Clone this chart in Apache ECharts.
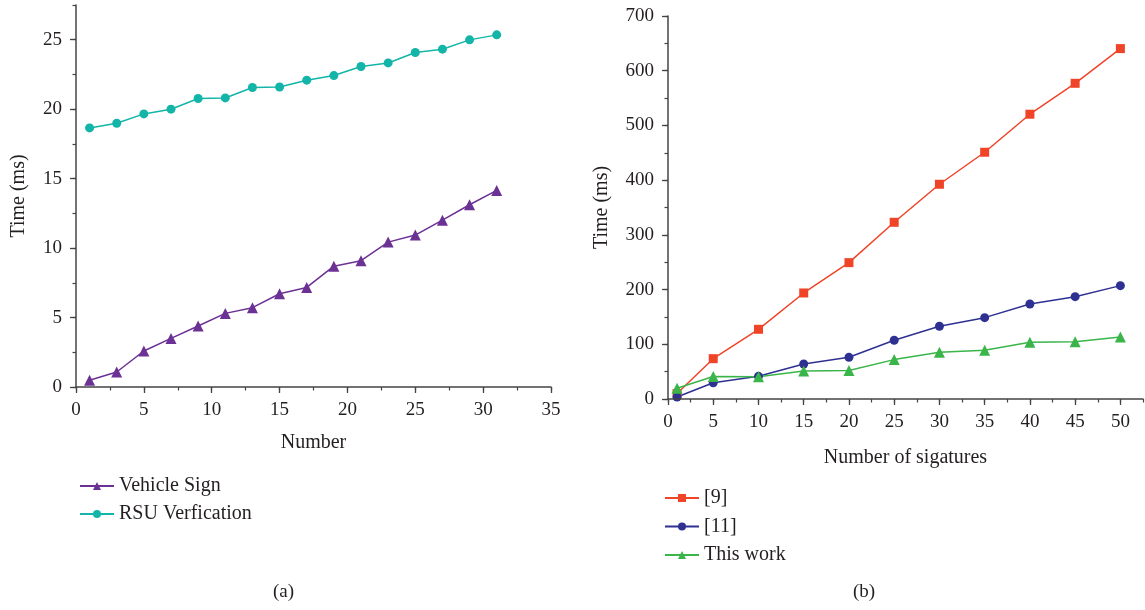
<!DOCTYPE html>
<html>
<head>
<meta charset="utf-8">
<script src="https://cdn.jsdelivr.net/npm/echarts@6/dist/echarts.min.js"></script>
<style>html,body{margin:0;padding:0;background:#fff}#c{width:1145px;height:610px}</style>
</head>
<body>
<div id="c"></div>
<script>
// Panel (a)
var numbersA = [1,3,5,7,9,11,13,15,17,19,21,23,25,27,29,31];
var vehicleSign = [0.48,1.08,2.59,3.5,4.39,5.3,5.71,6.71,7.17,8.7,9.09,10.43,10.94,12.01,13.12,14.15];
var rsuVerification = [18.65,18.99,19.66,20.0,20.77,20.81,21.56,21.6,22.09,22.42,23.07,23.33,24.08,24.32,24.99,25.35];
var ticksAX = [0,5,10,15,20,25,30,35];
var ticksAY = [0,5,10,15,20,25];
// Panel (b)
var signaturesB = [1,5,10,15,20,25,30,35,40,45,50];
var ref9 = [10,73.7,127.4,193.8,249.2,323,392.5,451,520.5,577,640.4];
var ref11 = [3.7,29.8,41.4,64,76.2,107.3,132.9,148.7,173.7,187,207.2];
var thisWork = [19.5,41,40.5,51,52,72,85.4,89,103.6,104.8,113.3];
var ticksBX = [0,5,10,15,20,25,30,35,40,45,50];
var ticksBY = [0,100,200,300,400,500,600,700];

function pairs(xs, ys){ return xs.map(function(x,i){ return [x, ys[i]]; }); }

var FONT = '"Liberation Serif","DejaVu Serif",serif';
var AX = '#444';
var TXT = '#231f20';

function mainAxis(dir, idx, max, ticks, name, nameGap){
  var a = {
    type:'value', gridIndex:idx, min:0, max:max,
    position: dir === 'x' ? 'bottom' : 'left',
    name:name, nameLocation:'middle', nameGap:nameGap,
    nameTextStyle:{fontFamily:FONT, fontSize:20, color:TXT},
    axisLine:{show:true, onZero:false, lineStyle:{color:AX, width:1.5}},
    axisTick:{show:true, length:6, customValues:ticks, lineStyle:{color:AX, width:1.3}},
    minorTick:{show:false},
    axisLabel:{fontFamily:FONT, fontSize:19, color:TXT, margin:14, customValues:ticks},
    splitLine:{show:false}, z:4
  };
  if (dir === 'y') a.nameRotate = 90;
  return a;
}
function minorAxis(dir, idx, max, step){
  return {
    type:'value', gridIndex:idx, min:0, max:max, interval:step,
    position: dir === 'x' ? 'bottom' : 'left', offset:0,
    axisLine:{show:false},
    axisTick:{show:true, length:3.5, lineStyle:{color:AX, width:1.2}},
    axisLabel:{show:false}, splitLine:{show:false}, minorTick:{show:false}
  };
}
function line(name, xi, yi, data, color, symbol, size){
  return {
    name:name, type:'line', xAxisIndex:xi, yAxisIndex:yi, data:data,
    symbol:symbol, symbolSize:size, showSymbol:true,
    lineStyle:{color:color, width:1.5}, itemStyle:{color:color},
    emphasis:{disabled:true}, animation:false, z:3
  };
}

var chart = echarts.init(document.getElementById('c'), null, {renderer:'canvas'});
chart.setOption({
  backgroundColor:'#fff',
  animation:false,
  grid:[
    {left:76, top:5, width:475, height:382},
    {left:668, top:16, width:475, height:383}
  ],
  xAxis:[
    mainAxis('x', 0, 35, ticksAX, 'Number', 46),
    mainAxis('x', 1, 52.5, ticksBX, 'Number of sigatures', 49),
    minorAxis('x', 0, 35, 2.5),
    minorAxis('x', 1, 52.5, 2.5)
  ],
  yAxis:[
    mainAxis('y', 0, 27.5, ticksAY, 'Time (ms)', 47),
    mainAxis('y', 1, 700, ticksBY, 'Time (ms)', 56),
    minorAxis('y', 0, 27.5, 2.5),
    minorAxis('y', 1, 700, 50)
  ],
  legend:[
    {left:74, top:471, orient:'vertical', itemWidth:34, itemHeight:10, itemGap:8,
     textStyle:{fontFamily:FONT, fontSize:20, color:TXT},
     data:['Vehicle Sign','RSU Verfication']},
    {left:659, top:483, orient:'vertical', itemWidth:34, itemHeight:10, itemGap:8.5,
     textStyle:{fontFamily:FONT, fontSize:20, color:TXT},
     data:['[9]','[11]','This work']}
  ],
  graphic:[
    {type:'text', left:273, top:583, style:{text:'(a)', font:'19px '+FONT, fill:TXT}},
    {type:'text', left:853, top:583, style:{text:'(b)', font:'19px '+FONT, fill:TXT}}
  ],
  series:[
    line('Vehicle Sign', 0, 0, pairs(numbersA, vehicleSign), '#6b3194', 'triangle', 11),
    line('RSU Verfication', 0, 0, pairs(numbersA, rsuVerification), '#13b5a8', 'circle', 9),
    line('[9]', 1, 1, pairs(signaturesB, ref9), '#f04428', 'rect', 9),
    line('[11]', 1, 1, pairs(signaturesB, ref11), '#2e3192', 'circle', 9),
    line('This work', 1, 1, pairs(signaturesB, thisWork), '#3ab54a', 'triangle', 11)
  ]
});
</script>
</body>
</html>
